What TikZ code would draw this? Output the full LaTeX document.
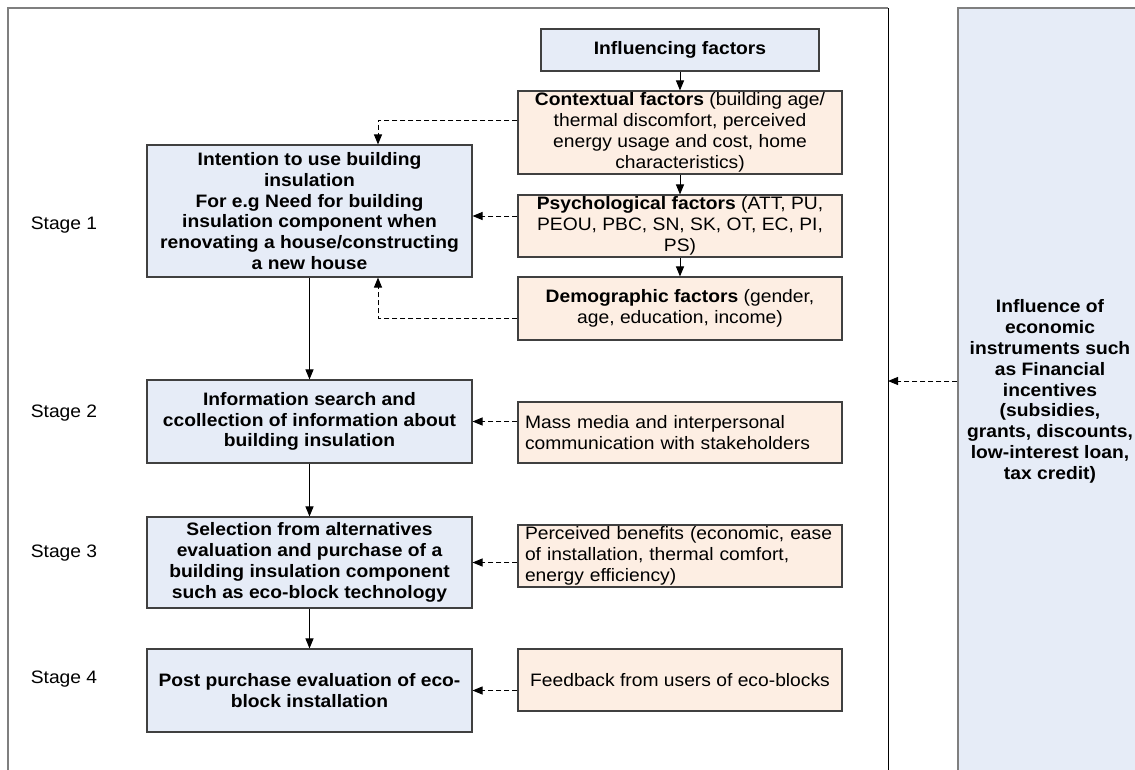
\documentclass[tikz,border=0pt]{standalone}
\usepackage{fontspec}
\setmainfont{Liberation Sans}[FakeStretch=1.07]
\usepackage{tikz}
\usetikzlibrary{arrows.meta}
\definecolor{boxblue}{HTML}{E6ECF7}
\definecolor{boxtan}{HTML}{FDEEE3}
\definecolor{edge}{HTML}{404040}
\definecolor{frameg}{HTML}{7F7F7F}
\newcommand{\diafont}{\fontsize{18pt}{20.8pt}\selectfont}
\tikzset{
  stagebox/.style={draw=edge, fill=boxblue, line width=1.1pt, inner sep=0pt, minimum width=325pt, align=center, font=\diafont\bfseries},
  factbox/.style={draw=edge, fill=boxtan, line width=1.1pt, inner sep=0pt, minimum width=324pt, align=center, font=\diafont},
  econbox/.style={draw=frameg, fill=boxblue, line width=1.4pt, inner sep=0pt, minimum width=184pt, minimum height=767pt, align=center, font=\diafont\bfseries},
  flow/.style={draw=black, line width=1pt, -{Triangle[length=10pt,width=8pt]}},
  dlink/.style={flow, dash pattern=on 5pt off 3pt},
  stagelab/.style={font=\diafont},
  framel/.style={draw=frameg, line width=1.4pt},
}
\begin{document}
\begin{tikzpicture}[x=1pt, y=-1pt]
  \useasboundingbox (0,0) rectangle (1135,769);
  \clip (0,0) rectangle (1135,769);

  % outer frame, open at the bottom
  \draw[framel] (8,790) -- (8,8) -- (888,8);
  \draw[line width=1pt] (888,8) -- (888,790);

  % economic instruments panel
  \node[econbox] (econ) at (1050,391.5) {Influence of\\economic\\instruments such\\as Financial\\incentives\\(subsidies,\\grants, discounts,\\low-interest loan,\\tax credit)};
  \coordinate (fr) at (888,381);

  % decision stages
  \node[stagebox, minimum height=132pt] (intent) at (309.5,211) {Intention to use building\\insulation\\For e.g Need for building\\insulation component when\\renovating a house/constructing\\a new house};
  \node[stagebox, minimum height=83pt] (info) at (309.5,421.5) {Information search and\\ccollection of information about\\building insulation};
  \node[stagebox, minimum height=91pt] (sel) at (309.5,562.5) {Selection from alternatives\\evaluation and purchase of a\\building insulation component\\such as eco-block technology};
  \node[stagebox, minimum height=83pt] (post) at (309.5,690.5) {Post purchase evaluation of eco-\\block installation};

  % influencing factors
  \node[stagebox, minimum width=278pt, minimum height=42pt] (infl) at (680,50) {Influencing factors};
  \node[factbox, minimum height=83pt] (ctx) at (680,132.5) {\textbf{Contextual factors} (building age/\\thermal discomfort, perceived\\energy usage and cost, home\\characteristics)};
  \node[factbox, minimum height=62pt] (psy) at (680,226) {\textbf{Psychological factors} (ATT, PU,\\PEOU, PBC, SN, SK, OT, EC, PI,\\PS)};
  \node[factbox, minimum height=63pt] (demo) at (680,308.5) {\textbf{Demographic factors} (gender,\\age, education, income)};
  \node[factbox, minimum height=61pt, text width=310pt, align=left] (media) at (680,432.5) {Mass media and interpersonal\\communication with stakeholders};
  \node[factbox, minimum height=62pt, text width=310pt, align=left] (benef) at (680,556) {Perceived benefits (economic, ease\\of installation, thermal comfort,\\energy efficiency)};
  \node[factbox, minimum height=62pt] (feed) at (680,680) {Feedback from users of eco-blocks};

  \foreach \n/\y in {1/225,2/413,3/553,4/679}
    \node[stagelab] (st\n) at (64,\y) {Stage \n};

  % solid flow
  \foreach \a/\b in {intent/info,info/sel,sel/post,infl/ctx,ctx/psy,psy/demo}
    \draw[flow] (\a) -- (\b);

  % dashed influences
  \coordinate (pk) at ([yshift=-5pt]intent.east);
  \draw[dlink] ([yshift=12.5pt]ctx.west) -| ([xshift=68.5pt]intent.north);
  \draw[dlink] ([yshift=-9.5pt]demo.west) -| ([xshift=68.5pt]intent.south);
  \draw[dlink] (psy.west |- pk) -- (pk);
  \foreach \a/\b in {media/info,benef/sel,feed/post}
    \draw[dlink] (\a.west |- \b.east) -- (\b.east);
  \draw[dlink] (econ.west |- fr) -- (fr);
\end{tikzpicture}
\end{document}
